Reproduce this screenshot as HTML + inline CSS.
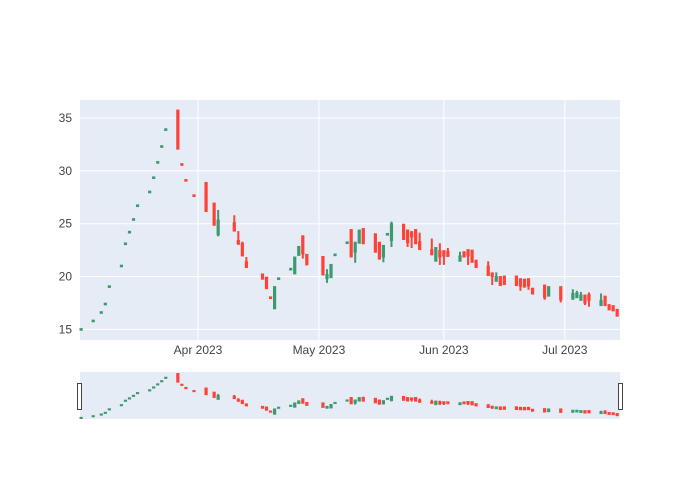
<!DOCTYPE html>
<html><head><meta charset="utf-8"><style>
html,body{margin:0;padding:0;background:#fff;}
svg{display:block;font-family:"Liberation Sans",Arial,sans-serif;}
</style></head><body>
<svg id="chart" width="700" height="500" viewBox="0 0 700 500" xmlns="http://www.w3.org/2000/svg">
<rect x="80" y="100" width="540" height="240" fill="#E5ECF6"/>
<g id="grid"></g>
<g id="candles"></g>
<g id="yaxis"></g>
<g id="xaxis"></g>
<rect x="80" y="372" width="540" height="47" fill="#E5ECF6"/>
<g id="slider"></g>
<rect x="77.5" y="383.5" width="4" height="26" fill="#fff" stroke="#444" stroke-width="1"/>
<rect x="618.5" y="383.5" width="4" height="26" fill="#fff" stroke="#444" stroke-width="1"/>
</svg>
<script>
const dates = ["2023-03-03","2023-03-06","2023-03-08","2023-03-09","2023-03-10","2023-03-13","2023-03-14","2023-03-15","2023-03-16","2023-03-17","2023-03-20","2023-03-21","2023-03-22","2023-03-23","2023-03-24","2023-03-27","2023-03-28","2023-03-29","2023-03-31","2023-04-03","2023-04-05","2023-04-06","2023-04-10","2023-04-11","2023-04-12","2023-04-13","2023-04-17","2023-04-18","2023-04-19","2023-04-20","2023-04-21","2023-04-24","2023-04-25","2023-04-26","2023-04-27","2023-04-28","2023-05-02","2023-05-03","2023-05-04","2023-05-05","2023-05-08","2023-05-09","2023-05-10","2023-05-11","2023-05-12","2023-05-15","2023-05-16","2023-05-17","2023-05-18","2023-05-19","2023-05-22","2023-05-23","2023-05-24","2023-05-25","2023-05-26","2023-05-29","2023-05-30","2023-05-31","2023-06-01","2023-06-02","2023-06-05","2023-06-06","2023-06-07","2023-06-08","2023-06-09","2023-06-12","2023-06-13","2023-06-14","2023-06-15","2023-06-16","2023-06-19","2023-06-20","2023-06-21","2023-06-22","2023-06-23","2023-06-26","2023-06-27","2023-06-30","2023-07-03","2023-07-04","2023-07-05","2023-07-06","2023-07-07","2023-07-10","2023-07-11","2023-07-12","2023-07-13","2023-07-14"];
const opens = [14.97,15.77,16.57,17.37,19.02,20.97,23.07,24.17,25.37,26.67,27.97,29.32,30.77,32.27,33.87,35.7,30.63,29.13,27.68,28.85,26.9,24.0,25.04,23.37,23.1,21.35,20.2,19.9,18.03,17.0,19.77,20.67,20.3,22.05,23.8,22.05,21.85,19.85,19.95,22.02,23.17,24.4,22.35,23.2,24.5,24.0,23.2,21.9,23.97,23.45,24.9,24.35,24.2,24.4,23.25,22.5,21.5,22.4,22.4,22.35,21.5,22.3,22.5,22.45,21.5,20.95,20.3,19.6,19.95,20.0,20.0,19.75,19.7,19.75,18.85,19.15,18.2,19.0,17.9,18.05,17.8,18.2,18.25,17.3,18.1,17.3,17.2,16.85];
const closes = [15.03,15.83,16.63,17.43,19.08,21.03,23.13,24.23,25.43,26.73,28.03,29.38,30.83,32.33,33.93,32.1,30.57,29.07,27.62,26.2,24.9,25.3,24.35,23.1,22.0,20.9,19.8,18.9,17.97,19.0,19.83,20.73,21.8,22.8,22.2,21.15,20.2,20.15,21.1,22.08,23.23,21.9,23.2,24.35,23.15,22.35,21.7,22.9,24.03,24.95,23.55,23.25,23.8,23.15,22.6,22.1,22.7,21.9,22.0,21.95,21.9,21.9,22.0,21.4,20.9,20.15,20.05,19.95,19.2,19.3,19.2,19.15,19.05,19.15,18.4,18.05,19.0,17.85,18.35,18.4,18.2,17.55,17.8,17.7,17.3,16.9,16.8,16.3];
const highs = [15.03,15.83,16.63,17.43,19.08,21.03,23.13,24.23,25.43,26.73,28.03,29.38,30.83,32.33,33.93,35.7,30.63,29.13,27.68,28.85,26.9,26.3,25.8,24.3,23.3,21.85,20.25,19.9,18.03,19.0,19.83,20.73,21.8,22.8,23.9,22.05,21.85,20.7,21.1,22.08,23.23,24.4,23.2,24.35,24.5,24.0,23.2,22.9,24.03,25.2,24.9,24.35,24.2,24.4,24.15,23.6,22.7,23.15,22.4,22.7,22.35,22.3,22.5,22.45,21.5,21.45,20.3,20.4,19.95,20.0,20.0,19.75,19.7,19.75,18.85,19.15,19.0,19.0,18.8,18.65,18.55,18.2,18.5,18.4,18.1,17.3,17.2,16.85];
const lows = [14.97,15.77,16.57,17.37,19.02,20.97,23.07,24.17,25.37,26.67,27.97,29.32,30.77,32.27,33.87,32.1,30.57,29.07,27.62,26.2,24.9,23.8,24.35,23.1,22.0,20.9,19.8,18.9,17.97,17.0,19.77,20.67,20.3,22.05,21.7,21.15,20.2,19.4,19.95,22.02,23.17,21.9,21.3,23.2,23.15,22.35,21.7,21.35,23.97,22.8,23.55,22.8,22.7,23.15,22.6,22.1,21.5,21.1,21.1,21.95,21.5,21.9,21.1,21.4,20.9,20.15,19.2,19.6,19.2,19.3,19.2,18.65,19.05,18.75,18.4,17.8,18.2,17.55,17.9,18.05,17.8,17.3,17.15,17.3,17.3,16.9,16.8,16.3];
const yTicks = [15,20,25,30,35];
const xTickDates = ["2023-04-01","2023-05-01","2023-06-01","2023-07-01"];
const xTickLabels = ["Apr 2023","May 2023","Jun 2023","Jul 2023"];

const NS="http://www.w3.org/2000/svg";
const DAY=86400000, BASE=Date.UTC(2023,3,1);
function dayOf(s){const p=s.split("-");return (Date.UTC(+p[0],+p[1]-1,+p[2])-BASE)/DAY;}
const X0=-29.28, X1=104.7;
function xs(d){return 80+(d-X0)*540/(X1-X0);}
const Y0=14.0, Y1=36.7;
function ys(v){return 340-(v-Y0)*240/(Y1-Y0);}
const smin=Math.min(...lows), smax=Math.max(...highs);
function ysl(v){return 418-(v-smin)*44/(smax-smin);}
function mk(tag,attrs,parent){const e=document.createElementNS(NS,tag);for(const k in attrs)e.setAttribute(k,attrs[k]);parent.appendChild(e);return e;}
const grid=document.getElementById("grid"), ya=document.getElementById("yaxis"), xa=document.getElementById("xaxis");
yTicks.forEach(t=>{
  const l=mk("line",{x1:80,x2:620,y1:ys(t),y2:ys(t),stroke:"#fff","stroke-width":1},grid);
  
  
  const tx=mk("text",{x:72,y:ys(t)+4,"text-anchor":"end","font-size":12,fill:"#444"},ya);
  tx.textContent=t;
  
  
});
xTickDates.forEach((d,i)=>{
  const x=xs(dayOf(d));
  const l=mk("line",{x1:x,x2:x,y1:100,y2:340,stroke:"#fff","stroke-width":1},grid);
  
  
  const tx=mk("text",{x:x,y:354,"text-anchor":"middle","font-size":12,fill:"#444"},xa);
  tx.textContent=xTickLabels[i];
  
  
});
const cg=document.getElementById("candles"), sg=document.getElementById("slider");
dates.forEach((d,i)=>{
  const dd=dayOf(d), x=xs(dd);
  const up=closes[i]>=opens[i];
  const col=up?"#3D9970":"#FF4136", fill=up?"rgba(61,153,112,0.5)":"rgba(255,65,54,0.5)";
  const bw=1.2;
  [[cg,ys],[sg,ysl]].forEach(([g,f])=>{
    const grp=mk("g",{},g);
    
    
    mk("line",{x1:x,x2:x,y1:f(highs[i]),y2:f(lows[i]),stroke:col,"stroke-width":2},grp);
    const top=f(Math.max(opens[i],closes[i])), bot=f(Math.min(opens[i],closes[i]));
    mk("rect",{x:x-bw/2,y:top,width:bw,height:Math.max(bot-top,0.1),fill:fill,stroke:col,"stroke-width":2},grp);
  });
});
</script>
</body></html>
